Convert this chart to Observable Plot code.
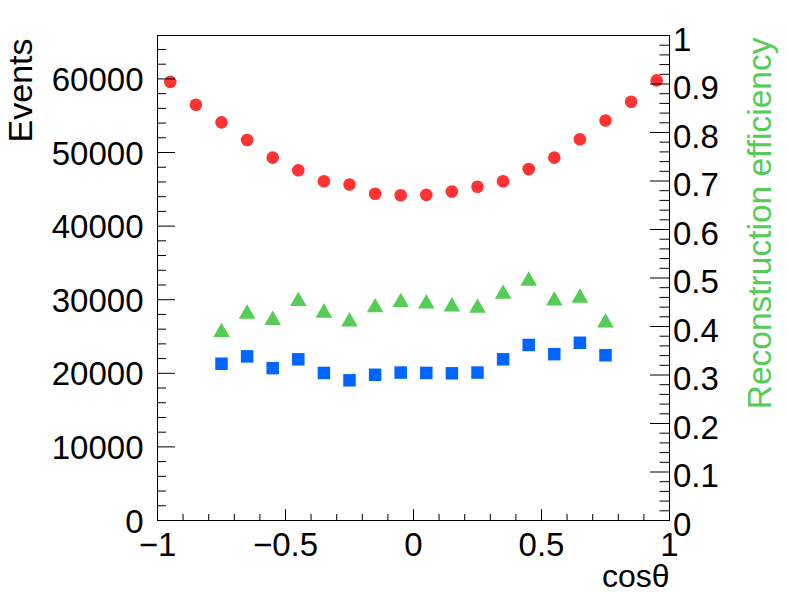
<!DOCTYPE html>
<html>
<head>
<meta charset="utf-8">
<script src="https://cdn.jsdelivr.net/npm/d3@7"></script>
<script src="https://cdn.jsdelivr.net/npm/@observablehq/plot@0.6"></script>
<style>
  html, body { margin: 0; padding: 0; background: white; }
  #chart { position: relative; width: 788px; height: 593px; }
  #chart svg { position: absolute; left: 0; top: 0; }
</style>
</head>
<body>
<div id="chart"></div>
<script>
// ---- data ----
const cosAll = [-0.95,-0.85,-0.75,-0.65,-0.55,-0.45,-0.35,-0.25,-0.15,-0.05,0.05,0.15,0.25,0.35,0.45,0.55,0.65,0.75,0.85,0.95];
const generated = [59600,56500,54100,51700,49300,47600,46100,45650,44400,44200,44250,44700,45350,46100,47750,49300,51800,54350,56900,59800];
const cosInner = [-0.75,-0.65,-0.55,-0.45,-0.35,-0.25,-0.15,-0.05,0.05,0.15,0.25,0.35,0.45,0.55,0.65,0.75];
const reconstructed = [21300,22300,20700,21900,20050,19050,19800,20100,20050,20000,20100,21900,23850,22600,24150,22450];
const efficiency = [0.393,0.431,0.418,0.457,0.433,0.415,0.444,0.455,0.452,0.446,0.443,0.472,0.499,0.458,0.464,0.413];

const leftMajor = [0,10000,20000,30000,40000,50000,60000];
const leftMinor = [2000,4000,6000,8000,12000,14000,16000,18000,22000,24000,26000,28000,32000,34000,36000,38000,42000,44000,46000,48000,52000,54000,56000,58000,62000,64000];
const xMajor = [-1,-0.5,0,0.5,1];
const xMinor = [-0.9,-0.8,-0.7,-0.6,-0.4,-0.3,-0.2,-0.1,0.1,0.2,0.3,0.4,0.6,0.7,0.8,0.9];
const rightMajor = [0,0.1,0.2,0.3,0.4,0.5,0.6,0.7,0.8,0.9,1];
const rightMinor = [0.02,0.04,0.06,0.08,0.12,0.14,0.16,0.18,0.22,0.24,0.26,0.28,0.32,0.34,0.36,0.38,0.42,0.44,0.46,0.48,0.52,0.54,0.56,0.58,0.62,0.64,0.66,0.68,0.72,0.74,0.76,0.78,0.82,0.84,0.86,0.88,0.92,0.94,0.96,0.98];

const yMaxEvents = 65900;

const redData = cosAll.map((c, i) => ({c, v: generated[i]}));
const blueData = cosInner.map((c, i) => ({c, v: reconstructed[i]}));
const greenData = cosInner.map((c, i) => ({c, v: efficiency[i]}));

const W = 788, H = 593, ML = 157, MR = 119, MT = 35, MB = 73;
const FW = W - ML - MR, FH = H - MT - MB;
const font = "'Liberation Sans', Arial, Helvetica, sans-serif";
const fmtX = d => d < 0 ? "\u2212" + Math.abs(d) : String(d);

const RED = "#ff3333", BLUE = "#0066ff", GREEN = "#55cc55";

const base = Plot.plot({
  width: W, height: H,
  marginLeft: ML, marginRight: MR, marginTop: MT, marginBottom: MB,
  style: {fontFamily: font, fontSize: "33px", background: "white", color: "black", overflow: "visible"},
  x: {domain: [-1, 1]},
  y: {domain: [0, yMaxEvents]},
  marks: [
    Plot.dot(redData, {x: "c", y: "v", r: 6.3, fill: RED}),
    Plot.dot(blueData, {x: "c", y: "v", r: 7.05, symbol: "square", fill: BLUE}),
    Plot.tickY(leftMinor, {y: d => d, insetRight: FW - 9, stroke: "black"}),
    Plot.tickY(leftMajor, {y: d => d, insetRight: FW - 18, stroke: "black"}),
    Plot.tickX(xMinor, {x: d => d, insetTop: FH - 6, stroke: "black"}),
    Plot.tickX(xMajor, {x: d => d, insetTop: FH - 11, stroke: "black"}),
    Plot.axisY(leftMajor, {anchor: "left", tickSize: 0, tickPadding: 14, dy: 1.5, tickFormat: d => String(d), label: null}),
    Plot.axisX(xMajor, {anchor: "bottom", tickSize: 0, tickPadding: 12.5, tickFormat: fmtX, label: null}),
    Plot.frame({stroke: "black"}),
    Plot.text(["Events"], {text: d => d, frameAnchor: "top-left", dx: -150, dy: 3, rotate: -90, textAnchor: "end", fontSize: 34, fill: "black"}),
    Plot.text(["cos\u03b8"], {text: d => d, frameAnchor: "bottom-right", dy: 66.7, textAnchor: "end", lineAnchor: "bottom", fontSize: 32, fill: "black"})
  ]
});

const overlay = Plot.plot({
  width: W, height: H,
  marginLeft: ML, marginRight: MR, marginTop: MT, marginBottom: MB,
  style: {fontFamily: font, fontSize: "33px", background: "transparent", color: "black", overflow: "visible"},
  x: {domain: [-1, 1], axis: null},
  y: {domain: [0, 1]},
  marks: [
    Plot.dot(greenData, {x: "c", y: "v", r: 6.17, symbol: "triangle", fill: GREEN, dy: 2.4}),
    Plot.tickY(rightMinor, {y: d => d, insetLeft: FW - 9.5, stroke: "black"}),
    Plot.tickY(rightMajor, {y: d => d, insetLeft: FW - 19, stroke: "black"}),
    Plot.axisY(rightMajor, {anchor: "right", tickSize: 0, tickPadding: 3.5, dy: 4.5, tickFormat: d => String(d), label: null}),
    Plot.text(["Reconstruction efficiency"], {text: d => d, frameAnchor: "top-right", dx: 78, dy: 2, rotate: -90, textAnchor: "end", fontSize: 33.5, fill: GREEN})
  ]
});

const el = document.getElementById("chart");
el.appendChild(base);
el.appendChild(overlay);
</script>
</body>
</html>
